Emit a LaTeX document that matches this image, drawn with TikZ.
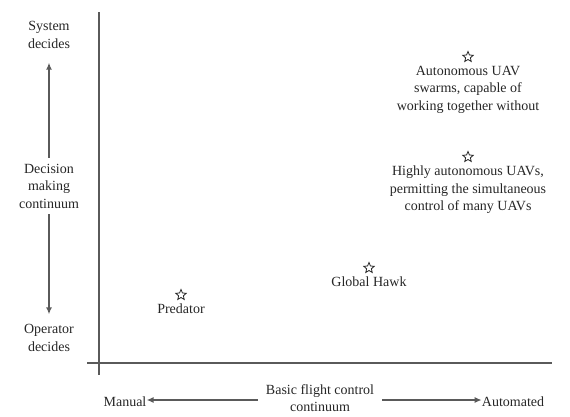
\documentclass[tikz,border=0pt]{standalone}
\usepackage{fontspec}
\setmainfont{Liberation Serif}
\usetikzlibrary{positioning}
\usetikzlibrary{shapes.geometric}
\usetikzlibrary{arrows.meta}
\definecolor{axisgray}{HTML}{5A5A5A}
\definecolor{textgray}{HTML}{262626}
\tikzset{label node/.style={align=center, text=textgray, inner sep=0pt,
    font=\fontsize{14}{17.5}\selectfont}}
\tikzset{star node/.style={star, star points=5, star point ratio=2.2,
    draw=textgray, line width=0.8pt, minimum size=11pt, inner sep=0pt}}
\tikzset{axis line/.style={draw=axisgray, line width=1.4pt}}
\tikzset{axis arrow/.style={draw=axisgray, line width=1.5pt,
    -{Latex[length=7pt,width=6pt]}}}

\begin{document}
\begin{tikzpicture}[x=1pt,y=-1pt]
    \useasboundingbox (0,0) rectangle (570,416);

    % axes
    \coordinate (a1) at (99,12);
    \coordinate (a2) at (99,375);
    \coordinate (a3) at (87,363);
    \coordinate (a4) at (552,363);
    \path[axis line] (a1) -- (a2) (a3) -- (a4);

    % decision making continuum
    \node[label node] (1) at (49,35) {System\\decides};
    \node[label node] (2) at (49,186) {Decision\\making\\continuum};
    \node[label node] (3) at (49,338) {Operator\\decides};

    % basic flight control continuum
    \node[label node, anchor=base] (4) at (125,406) {Manual};
    \node[label node] (5) at (320,398) {Basic flight control\\continuum};
    \node[label node, anchor=base] (6) at (513,406) {Automated};
    \coordinate (b1) at ([yshift=-2pt]5.west);
    \coordinate (b2) at ([yshift=-2pt]5.east);

    \draw[axis arrow, shorten <=6pt, shorten >=14pt] (2.north) -- (1.south);
    \draw[axis arrow, shorten <=6pt, shorten >=10pt] (2.south) -- (3.north);
    \draw[axis arrow, shorten <=8pt] (b1) -- (4.east |- b1);
    \draw[axis arrow, shorten <=8pt] (b2) -- (6.west |- b2);

    % UAVs
    \node[star node] (7) at (181,295) {};
    \node[label node] (8) [below = 6pt of 7] {Predator};
    \node[star node] (9) at (369,268) {};
    \node[label node] (10) [below = 6pt of 9] {Global Hawk};
    \node[star node] (11) at (468,157) {};
    \node[label node] (12) [below = 6pt of 11] {Highly autonomous UAVs,\\permitting the simultaneous\\control of many UAVs};
    \node[star node] (13) at (468,57) {};
    \node[label node] (14) [below = 6pt of 13] {Autonomous UAV\\swarms, capable of\\working together without};
\end{tikzpicture}
\end{document}
